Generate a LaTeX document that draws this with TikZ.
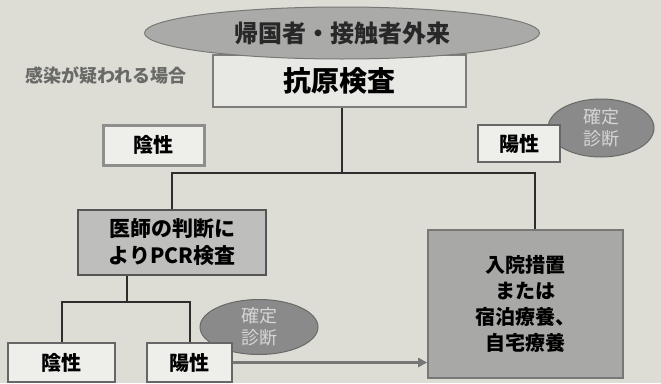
\documentclass[tikz,border=0pt]{standalone}
\usepackage{fontspec}
\setmainfont{Noto Sans CJK JP}
\usetikzlibrary{shapes.geometric,arrows.meta}

\begin{document}
\begin{tikzpicture}[x=1pt,y=1pt,yscale=-1,xscale=1,
  box/.style={draw={rgb,255:red,102;green,102;blue,102},line width=1.2pt,fill={rgb,255:red,238;green,238;blue,234},inner sep=0pt,align=center,font=\bfseries\fontsize{20}{26}\selectfont},
  oval/.style={ellipse,draw={rgb,255:red,105;green,105;blue,105},line width=1pt,fill={rgb,255:red,138;green,138;blue,138},inner sep=0pt,align=center,text={rgb,255:red,214;green,214;blue,212},font=\fontsize{18}{22}\selectfont},
  link/.style={draw={rgb,255:red,45;green,45;blue,45},line width=2pt},
  pointer/.style={draw={rgb,255:red,118;green,118;blue,118},line width=2.5pt,-{Triangle[length=9pt,width=9pt]}}]
%background
\fill [color={rgb, 255:red, 221; green, 221; blue, 214 }] (0,0) rectangle (661,383);

%Antigen test box [kougen]
\node [box,minimum width=253,minimum height=52,fill={rgb,255:red,232;green,232;blue,228},draw={rgb,255:red,125;green,125;blue,125},font=\bfseries\fontsize{28}{32}\selectfont] (kougen) at (339.5,81) {抗原検査};
%Top ellipse [gairai]
\node [oval,minimum width=395,minimum height=52,fill={rgb,255:red,170;green,170;blue,168},draw={rgb,255:red,120;green,120;blue,118},text={rgb,255:red,40;green,40;blue,40},font=\bfseries\fontsize{24}{28}\selectfont] (gairai) at (342,33) {帰国者・接触者外来};
% Text Node
\node [text={rgb,255:red,105;green,105;blue,103},font=\bfseries\fontsize{18}{22}\selectfont,inner sep=0pt] (utagai) at (106,75) {感染が疑われる場合};

%Negative / positive after antigen test
\node [box,minimum width=101,minimum height=40,line width=3pt,draw={rgb,255:red,142;green,142;blue,140}] (inseiA) at (153.5,145) {陰性};
\node [oval,minimum width=106,minimum height=58] (kakuteiA) at (601,128) {確定\\診断};
\node [box,minimum width=82,minimum height=37] (youseiA) at (519,143.5) {陽性};

%PCR box [ishi]
\node [box,minimum width=188,minimum height=65,fill={rgb,255:red,190;green,190;blue,188},draw={rgb,255:red,85;green,85;blue,85},font=\bfseries\fontsize{21}{27}\selectfont] (ishi) at (172,242.5) {医師の判断に\\よりPCR検査};
%Hospital box [nyuin]
\node [box,minimum width=195,minimum height=148,fill={rgb,255:red,168;green,168;blue,166},draw={rgb,255:red,120;green,120;blue,118},line width=1.6pt] (nyuin) at (525.5,304) {入院措置\\または\\宿泊療養、\\自宅療養};

%Lower results
\node [oval,minimum width=118,minimum height=55] (kakuteiB) at (259,327) {確定\\診断};
\node [box,minimum width=107,minimum height=39] (inseiB) at (61.5,362.5) {陰性};
\node [box,minimum width=85,minimum height=39] (youseiB) at (189.5,362.5) {陽性};

%Straight Lines
\coordinate (splitA) at (342,173);
\coordinate (rightA) at (535,173);
\coordinate (splitB) at (127,302);
\draw [link] (kougen.south -| splitA) -- (splitA);
\draw [link] (ishi.north) |- (rightA) -- (rightA |- nyuin.north);
\draw [link] (splitB |- ishi.south) -- (splitB);
\draw [link] (inseiB.north) |- (splitB) -| (youseiB.north);
%Right Arrow
\draw [pointer] (youseiB.east) -- (youseiB.east -| nyuin.west);

\end{tikzpicture}
\end{document}
